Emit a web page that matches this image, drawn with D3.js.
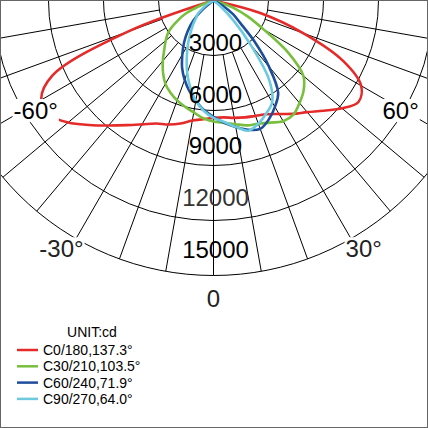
<!DOCTYPE html>
<html>
<head>
<meta charset="utf-8">
<script src="https://cdn.jsdelivr.net/npm/d3@7"></script>
<style>
  body { margin: 0; background: #fff; }
  svg { display: block; }
</style>
</head>
<body>
<svg id="chart"></svg>
<script>
// svg size
const width = 428;
const height = 428;

// gamma angles (deg), 0 = straight down, + to the right
const angles = [-90, -85, -80, -75, -70, -65, -60, -55, -50, -45, -40, -35, -30, -25, -20, -15, -10, -5,
    0, 5, 10, 15, 20, 25, 30, 35, 40, 45, 50, 55, 60, 65, 70, 75, 80, 85, 90];

// intensity in cd per C plane
const c0 = [0, 0, 0, 200, 5000, 9700, 10850, 10900, 10350, 9600, 8900, 8300, 7800, 7400, 7200, 6950, 6650, 6500,
    6400, 6400, 6500, 6600, 6700, 6850, 7150, 7550, 7950, 8500, 9150, 9650, 9300, 7800, 5200, 2600, 0, 0, 0];
const c30 = [0, 0, 0, 0, 550, 1650, 2350, 3000, 3400, 3800, 4300, 4800, 5250, 5550, 5800, 6000, 6200, 6450,
    6600, 6700, 6850, 7050, 7150, 7350, 7600, 7600, 7300, 6950, 6400, 5000, 3150, 2050, 1100, 250, 0, 0, 0];
const c60 = [0, 0, 0, 0, 0, 0, 0, 0, 800, 1550, 2200, 2800, 3400, 4050, 4600, 5100, 5550, 6000,
    6350, 6700, 7000, 7300, 7450, 7150, 6700, 6150, 4700, 3150, 1900, 1300, 650, 0, 0, 0, 0, 0, 0];
const c90 = [0, 0, 0, 0, 0, 0, 300, 650, 1100, 1350, 1750, 2200, 2800, 3450, 4200, 4900, 5550, 6050,
    6400, 6650, 7000, 7350, 7150, 6800, 6400, 5300, 3150, 1550, 550, 0, 0, 0, 0, 0, 0, 0, 0];

const seriesNames = ["C0/180,137.3°", "C30/210,103.5°", "C60/240,71.9°", "C90/270,64.0°"];
const seriesColors = ["#e52a2a", "#77bf3c", "#1d4d9b", "#6cc9de"];
const seriesValues = [c0, c30, c60, c90];

// grid
const ringValues = [3000, 6000, 9000, 12000, 15000];
const ringLabels = ["3000", "6000", "9000", "12000", "15000"];
const spokeAngles = [-80, -70, -60, -50, -40, -30, -20, -10, 10, 20, 30, 40, 50, 60, 70, 80];
const angleLabels = ["-60°", "60°", "-30°", "30°", "0"];
const angleLabelAt = [-58.3, 59.6, -31.5, 31.2, 0];

const cx = 213.5, cy = 0.5;

const svg = d3.select("#chart")
    .attr("width", width)
    .attr("height", height);

const r = d3.scaleLinear().domain([0, 15000]).range([0, 275]);
const rad = d => d * Math.PI / 180;

const plot = svg.append("g").attr("transform", `translate(${cx},${cy})`);

// rings
plot.selectAll("circle.ring")
    .data(ringValues)
    .enter()
    .append("circle")
    .attr("class", "ring")
    .attr("r", d => r(d))
    .attr("fill", "none")
    .attr("stroke", "#000")
    .attr("stroke-width", 1);

// spokes, from first ring out
plot.selectAll("line.spoke")
    .data(spokeAngles)
    .enter()
    .append("line")
    .attr("x1", d => r(ringValues[0]) * Math.sin(rad(d)))
    .attr("y1", d => r(ringValues[0]) * Math.cos(rad(d)))
    .attr("x2", d => r(15000) * Math.sin(rad(d)))
    .attr("y2", d => r(15000) * Math.cos(rad(d)))
    .attr("stroke", "#000")
    .attr("stroke-width", 1);

// 0 deg axis from the centre
plot.append("line")
    .attr("x1", 0).attr("y1", 0)
    .attr("x2", 0).attr("y2", r(15000))
    .attr("stroke", "#000")
    .attr("stroke-width", 1);

// curves
const curve = d3.lineRadial()
    .angle(d => Math.PI - rad(d[0]))
    .radius(d => r(d[1]))
    .curve(d3.curveCatmullRom.alpha(0.5));

plot.selectAll("path.curve")
    .data(seriesValues)
    .enter()
    .append("path")
    .attr("class", "curve")
    .attr("d", vals => curve(angles.map((a, i) => [a, vals[i]])))
    .attr("fill", "none")
    .attr("stroke", (d, i) => seriesColors[i])
    .attr("stroke-width", 2.6)
    .attr("stroke-linejoin", "round");

// ring labels
plot.selectAll("text.ringlabel")
    .data(ringValues)
    .enter()
    .append("text")
    .attr("x", 2)
    .attr("y", d => r(d) * 0.94 - 10)
    .attr("dy", "0.36em")
    .attr("text-anchor", "middle")
    .attr("font-family", "Liberation Sans, Arial, sans-serif")
    .attr("font-size", 24)
    .attr("fill", (d, i) => i === 3 ? "#333" : "#000")
    .text((d, i) => ringLabels[i]);

// angle labels with white box
const angleR = [209, 217, 291, 290, 298];
const al = plot.selectAll("g.anglelabel")
    .data(angleLabels)
    .enter()
    .append("g")
    .attr("transform", (d, i) => {
        const a = rad(angleLabelAt[i]);
        return `translate(${angleR[i] * Math.sin(a)},${angleR[i] * Math.cos(a)})`;
    });

al.append("text")
    .attr("dy", "0.36em")
    .attr("text-anchor", "middle")
    .attr("font-family", "Liberation Sans, Arial, sans-serif")
    .attr("font-size", 24)
    .attr("fill", (d, i) => i >= 2 ? "#222" : "#000")
    .text(d => d);

al.each(function() {
    const g = d3.select(this);
    const b = g.select("text").node().getBBox();
    g.insert("rect", "text")
        .attr("x", b.x - 1)
        .attr("y", b.y + 2)
        .attr("width", b.width + 2)
        .attr("height", b.height - 4)
        .attr("fill", "#fff");
});

// legend
const legend = svg.append("g").attr("transform", "translate(17,332)");

legend.append("text")
    .attr("x", 75)
    .attr("y", 0)
    .attr("dy", "0.36em")
    .attr("text-anchor", "middle")
    .attr("font-family", "Liberation Sans, Arial, sans-serif")
    .attr("font-size", 14)
    .text("UNIT:cd");

const item = legend.selectAll("g.item")
    .data(seriesNames)
    .enter()
    .append("g")
    .attr("transform", (d, i) => `translate(0,${18 + i * 16.3})`);

item.append("line")
    .attr("x1", 0).attr("x2", 21)
    .attr("stroke", (d, i) => seriesColors[i])
    .attr("stroke-width", 2.5);

item.append("text")
    .attr("x", 26)
    .attr("dy", "0.36em")
    .attr("font-family", "Liberation Sans, Arial, sans-serif")
    .attr("font-size", 14)
    .text(d => d);

// frame
svg.append("rect")
    .attr("x", 0.5).attr("y", 0.5)
    .attr("width", width - 1).attr("height", height - 1)
    .attr("fill", "none")
    .attr("stroke", "#666")
    .attr("stroke-width", 1);
</script>
</body>
</html>
